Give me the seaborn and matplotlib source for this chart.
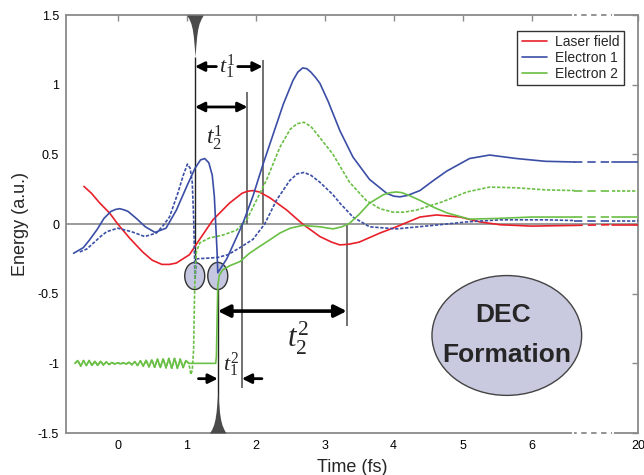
import numpy as np
import matplotlib
matplotlib.use('Agg')
import matplotlib.pyplot as plt
import seaborn as sns
from matplotlib.patches import Ellipse
from matplotlib.lines import Line2D

# Data (time in fs, energy in a.u.)
# the axis is broken between 6.62 and 7.16, the right edge stands for 20 fs
red_x = [-0.49, -0.38, -0.26, -0.12, 0.0, 0.17, 0.36, 0.5, 0.64, 0.75, 0.85, 1.04, 1.16, 1.38, 1.62, 1.8, 1.88,
         1.96, 2.05, 2.2, 2.45, 2.68, 2.93, 3.1, 3.22, 3.35, 3.5, 3.8, 4.04, 4.38, 4.62, 4.96, 5.25, 5.54, 6.0,
         6.62, 7.16, 7.54]
red_y = [0.27, 0.22, 0.15, 0.08, 0.0, -0.10, -0.20, -0.26, -0.29, -0.29, -0.28, -0.22, -0.13, 0.03, 0.15, 0.22,
         0.235, 0.24, 0.23, 0.19, 0.10, 0.0, -0.09, -0.13, -0.15, -0.145, -0.13, -0.065, -0.02, 0.05, 0.065, 0.05,
         0.015, -0.005, -0.015, -0.01, -0.005, -0.005]

blue_x = [-0.64, -0.5, -0.41, -0.3, -0.2, -0.1, -0.03, 0.03, 0.1, 0.15, 0.27, 0.4, 0.54, 0.7, 0.85, 1.0, 1.12,
          1.2, 1.26, 1.32, 1.37, 1.40, 1.42, 1.44, 1.45, 1.58, 1.7, 1.81, 1.96, 2.1, 2.25, 2.4, 2.54, 2.61, 2.68,
          2.74, 2.8, 2.87, 2.93, 3.05, 3.22, 3.41, 3.65, 3.9, 4.0, 4.09, 4.2, 4.38, 4.57, 4.77, 5.1, 5.39, 5.78,
          6.2, 6.62, 7.16, 7.54]
blue_y = [-0.21, -0.17, -0.115, -0.04, 0.04, 0.09, 0.105, 0.11, 0.10, 0.09, 0.04, -0.02, -0.06, -0.03, 0.1, 0.27,
          0.40, 0.46, 0.47, 0.44, 0.35, 0.2, 0.0, -0.2, -0.35, -0.25, -0.12, 0.0, 0.2, 0.42, 0.64, 0.86, 1.03, 1.09,
          1.12, 1.115, 1.09, 1.05, 1.01, 0.88, 0.67, 0.48, 0.32, 0.22, 0.2, 0.195, 0.205, 0.24, 0.31, 0.38, 0.47,
          0.495, 0.47, 0.45, 0.445, 0.445, 0.445]

blue_d_x = [-0.55, -0.45, -0.36, -0.25, -0.16, 0.0, 0.2, 0.39, 0.56, 0.66, 0.75, 0.87, 0.95, 1.01, 1.05, 1.08,
            1.10, 1.12, 1.14, 1.3, 1.45, 1.6, 1.77, 1.96, 2.13, 2.3, 2.49, 2.6, 2.7, 2.8, 2.93, 3.12, 3.22, 3.41,
            3.65, 4.04, 4.57, 5.06, 5.54, 6.2, 6.62, 7.16, 7.54]
blue_d_y = [-0.2, -0.18, -0.14, -0.09, -0.055, -0.03, -0.055, -0.09, -0.065, -0.01, 0.05, 0.22, 0.35, 0.43, 0.40,
            0.3, 0.05, -0.40, -0.25, -0.245, -0.24, -0.22, -0.17, -0.11, 0.0, 0.17, 0.31, 0.36, 0.37, 0.35, 0.3,
            0.21, 0.15, 0.05, -0.02, -0.035, -0.01, 0.015, 0.03, 0.03, 0.025, 0.025, 0.025]

# ripple of electron 2 around -1 before the ionisation
osc_x = np.linspace(-0.62, 1.03, 41)
osc_y = [-1.0, -0.98, -1.02, -0.98, -1.015, -0.98, -1.015, -0.985, -1.015, -0.985, -1.012, -0.99, -1.008,
         -0.994, -1.005, -0.996, -1.004, -0.996, -1.005, -0.992, -1.01, -0.988, -1.015, -0.982, -1.02, -0.978,
         -1.025, -0.975, -1.028, -0.97, -1.03, -0.968, -1.032, -0.965, -1.035, -0.965, -1.035, -0.97, -1.03,
         -0.98, -1.0]

green_x = [1.2, 1.42, 1.43, 1.44, 1.45, 1.47, 1.52, 1.62, 1.77, 1.91, 2.06, 2.2, 2.35, 2.5, 2.68, 2.93, 3.12,
           3.25, 3.36, 3.5, 3.65, 3.85, 3.95, 4.04, 4.12, 4.2, 4.38, 4.58, 4.77, 5.1, 5.5, 6.0, 6.62, 7.16, 7.54]
green_y = [-1.0, -1.0, -0.95, -0.7, -0.45, -0.37, -0.33, -0.3, -0.27, -0.21, -0.16, -0.115, -0.065, -0.03, -0.01,
           -0.02, -0.035, -0.02, 0.005, 0.07, 0.15, 0.21, 0.225, 0.23, 0.225, 0.21, 0.17, 0.12, 0.08, 0.035, 0.04,
           0.05, 0.05, 0.05, 0.05]

green_d_x = [1.06, 1.08, 1.10, 1.11, 1.12, 1.14, 1.19, 1.33, 1.52, 1.72, 1.87, 2.01, 2.16, 2.35, 2.5, 2.6, 2.7,
             2.8, 2.93, 3.12, 3.36, 3.6, 3.8, 3.99, 4.15, 4.33, 4.71, 5.06, 5.39, 5.78, 6.2, 6.62, 7.16, 7.54]
green_d_y = [-1.08, -1.05, -0.9, -0.6, -0.35, -0.2, -0.135, -0.1, -0.08, -0.045, 0.03, 0.17, 0.32, 0.55, 0.68,
             0.72, 0.73, 0.7, 0.62, 0.5, 0.3, 0.17, 0.11, 0.085, 0.085, 0.1, 0.16, 0.23, 0.265, 0.26, 0.245, 0.24,
             0.24, 0.24]

# laser pulse profile (offset in fs, depth in a.u.)
pulse_dt = [-0.12, -0.09, -0.06, -0.04, -0.025, -0.012, 0.0, 0.012, 0.025, 0.04, 0.06, 0.09, 0.12]
pulse_h = [0.0, 0.025, 0.06, 0.10, 0.15, 0.22, 0.30, 0.22, 0.15, 0.10, 0.06, 0.025, 0.0]

xtick_pos = [0, 1, 2, 3, 4, 5, 6, 7.54]
xtick_lab = ['0', '1', '2', '3', '4', '5', '6', '20']
ytick_pos = [-1.5, -1, -0.5, 0, 0.5, 1, 1.5]
ytick_lab = ['-1.5', '-1', '-0.5', '0', '0.5', '1', '1.5']

RED, BLUE, GREEN = '#e8202a', '#3b4ea6', '#6abf45'
BREAK = (6.62, 7.16)

sns.set_style('white')
plt.rcParams['font.family'] = ['Liberation Sans', 'DejaVu Sans']
plt.rcParams['mathtext.fontset'] = 'custom'
plt.rcParams['mathtext.it'] = 'Liberation Serif:italic'
plt.rcParams['mathtext.rm'] = 'Liberation Serif'

fig = plt.figure(figsize=(6.44, 4.75), dpi=100)
ax = fig.add_axes([0.1025, 0.0884, 0.888, 0.880])


def draw_curve(x, y, color, ls):
    x = np.asarray(x, dtype=float)
    y = np.asarray(y, dtype=float)
    parts = [(x <= BREAK[0], ls),
             ((x >= BREAK[0]) & (x <= BREAK[1]), (0, (5, 3))),
             (x >= BREAK[1], ls)]
    for m, style in parts:
        sns.lineplot(x=x[m], y=y[m], ax=ax, color=color, lw=1.2, linestyle=style,
                     sort=False, estimator=None, zorder=3)


ax.axhline(0, color='#8a8a8a', lw=1.2, zorder=1)

draw_curve(red_x, red_y, RED, '-')
draw_curve(blue_d_x, blue_d_y, BLUE, (0, (2, 1)))
draw_curve(np.concatenate([osc_x, green_d_x]), osc_y + green_d_y, GREEN, (0, (2, 1)))
draw_curve(blue_x, blue_y, BLUE, '-')
draw_curve(np.concatenate([osc_x, green_x]), osc_y + green_y, GREEN, '-')

# laser pulses at the top and bottom
top_t, bot_t = 1.12, 1.45
ax.fill_between(top_t + np.array(pulse_dt), 1.5 - np.array(pulse_h), 1.5, color='#4a4a4a', lw=0, zorder=4)
ax.fill_between(bot_t + np.array(pulse_dt), -1.5, -1.5 + np.array(pulse_h), color='#4a4a4a', lw=0, zorder=4)

# marker lines
ax.vlines([1.12, 1.45], [-0.47, -1.5], [1.2, -0.28], colors='#222222', lw=1.0, zorder=2)
ax.vlines([1.80, 1.88, 2.10, 3.32], [-1.18, 0.0, 0.0, -0.73], [0.01, 0.95, 1.18, 0.0],
          colors='#666666', lw=1.3, zorder=2)

# ionisation ellipses
for cx in (1.116, 1.45):
    ax.add_patch(Ellipse((cx, -0.373), 0.29, 0.195, fc='#c5c6df', ec='#333333', lw=1.0, zorder=2.5))

ax.add_patch(Ellipse((5.64, -0.80), 2.17, 0.86, fc='#c9c9df', ec='#444444', lw=1.0, zorder=2.5))
ax.text(5.58, -0.65, 'DEC', fontsize=19, fontweight='bold', ha='center', va='center', zorder=6)
ax.text(5.64, -0.94, 'Formation', fontsize=19, fontweight='bold', ha='center', va='center', zorder=6)

# time interval arrows
one = dict(arrowstyle='-|>', color='black', lw=2.0, mutation_scale=14, shrinkA=0, shrinkB=0)
two = dict(arrowstyle='<|-|>', color='black', lw=2.0, mutation_scale=14, shrinkA=0, shrinkB=0)
big = dict(arrowstyle='<|-|>', color='black', lw=2.6, mutation_scale=18, shrinkA=0, shrinkB=0)
ax.annotate('', xy=(1.12, 1.13), xytext=(1.43, 1.13), arrowprops=one, zorder=6)
ax.annotate('', xy=(2.10, 1.13), xytext=(1.74, 1.13), arrowprops=one, zorder=6)
ax.annotate('', xy=(1.12, 0.84), xytext=(1.88, 0.84), arrowprops=two, zorder=6)
ax.annotate('', xy=(1.45, -0.625), xytext=(3.32, -0.625), arrowprops=big, zorder=6)
ax.annotate('', xy=(1.45, -1.11), xytext=(1.17, -1.11), arrowprops=one, zorder=6)
ax.annotate('', xy=(1.80, -1.11), xytext=(2.09, -1.11), arrowprops=one, zorder=6)

ax.text(1.58, 1.13, r'$t_1^1$', fontsize=16, ha='center', va='center', zorder=6)
ax.text(1.41, 0.62, r'$t_2^1$', fontsize=17, ha='center', va='center', zorder=6)
ax.text(2.61, -0.82, r'$t_2^2$', fontsize=22, ha='center', va='center', zorder=6)
ax.text(1.64, -1.01, r'$t_1^2$', fontsize=16, ha='center', va='center', zorder=6)

ax.set_xlim(-0.75, 7.54)
ax.set_ylim(-1.5, 1.5)
ax.set_xticks(xtick_pos)
ax.set_xticklabels(xtick_lab)
ax.set_yticks(ytick_pos)
ax.set_yticklabels(ytick_lab)
ax.tick_params(direction='in', length=4, width=1, color='#8a8a8a', top=True, right=True,
               labelsize=9, pad=5, labelcolor='black')
for s in ax.spines.values():
    s.set_color('#8a8a8a')
    s.set_linewidth(1.3)
    s.set_visible(True)

# broken axis marks on the top and bottom frame
for yy in (0, 1):
    ax.plot(BREAK, [yy, yy], transform=ax.get_xaxis_transform(), color='white', lw=3,
            clip_on=False, zorder=5)
    ax.plot(BREAK, [yy, yy], transform=ax.get_xaxis_transform(), color='#8a8a8a', lw=1.3,
            linestyle=(1.5, (3, 2.5)), clip_on=False, zorder=6)

ax.set_xlabel('Time (fs)', fontsize=13, labelpad=5)
ax.set_ylabel('Energy (a.u.)', fontsize=13, labelpad=6)

handles = [Line2D([], [], color=RED, lw=1.2), Line2D([], [], color=BLUE, lw=1.2),
           Line2D([], [], color=GREEN, lw=1.2)]
leg = ax.legend(handles, ['Laser field', 'Electron 1', 'Electron 2'], loc='upper right',
                bbox_to_anchor=(0.975, 0.962), frameon=True, fancybox=False, edgecolor='#333333',
                framealpha=1, fontsize=10, handlelength=1.8, borderpad=0.3, labelspacing=0.15,
                handletextpad=0.6, borderaxespad=0)
leg.get_frame().set_linewidth(1.0)

fig.savefig('out.png', dpi=100)
